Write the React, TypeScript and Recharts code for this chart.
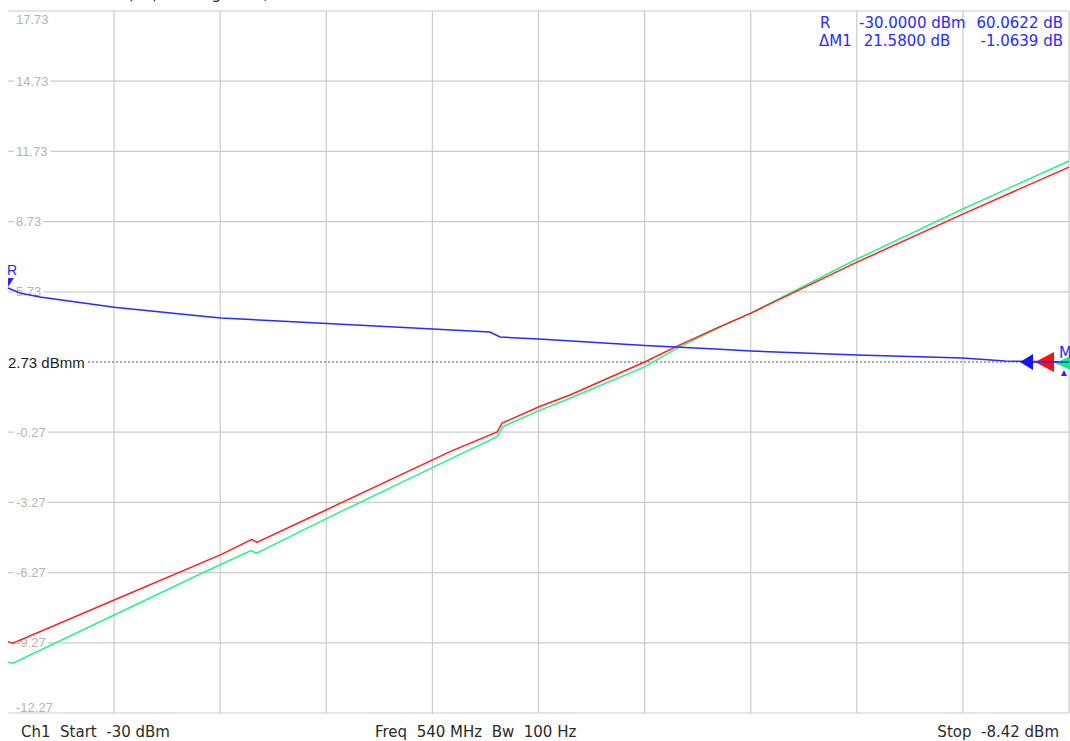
import React from "react";
import { LineChart, Line, XAxis, YAxis, CartesianGrid, ReferenceLine, ReferenceDot } from "recharts";

// Sweep: power (dBm) on x, trace values (dB) on y
const START_DBM = -30;
const STOP_DBM = -8.42;
const xGridValues = [-30, -27.842, -25.684, -23.526, -21.368, -19.21, -17.052, -14.894, -12.736, -10.578, -8.42];
const yTickValues = [-12.27, -9.27, -6.27, -3.27, -0.27, 2.73, 5.73, 8.73, 11.73, 14.73, 17.73];
const refLevel = 2.73;

const bluePower = [-30, -29.76, -29.35, -27.84, -26.09, -25.67, -23.51, -21.36, -20.2, -19.99, -19.2, -17.96, -17.04, -16.33, -15.52, -14.89, -12.73, -10.58, -9.72, -8.42];
const blueGain = [5.89, 5.68, 5.51, 5.07, 4.7, 4.61, 4.38, 4.14, 4.01, 3.8, 3.71, 3.55, 3.43, 3.36, 3.27, 3.2, 3.03, 2.9, 2.77, 2.73];

const redPower = [-30, -29.9, -27.84, -25.67, -25.04, -24.94, -23.65, -21.01, -20.05, -19.95, -19.2, -18.57, -17.04, -16.39, -15.52, -14.89, -12.73, -10.58, -8.42];
const redGain = [-9.22, -9.29, -7.44, -5.5, -4.85, -4.98, -3.71, -1.1, -0.26, 0.12, 0.82, 1.32, 2.74, 3.41, 4.24, 4.82, 7.0, 9.05, 11.06];

const greenPower = [-30, -29.9, -27.84, -26.09, -25.06, -24.94, -23.65, -21.01, -20.05, -19.93, -19.2, -18.57, -17.04, -16.39, -15.52, -14.89, -12.73, -10.58, -8.42];
const greenGain = [-10.1, -10.14, -8.08, -6.33, -5.33, -5.44, -4.09, -1.42, -0.46, -0.03, 0.65, 1.18, 2.53, 3.32, 4.21, 4.82, 7.13, 9.27, 11.32];

const infoRows = [
  ["R", "-30.0000 dBm", "60.0622 dB"],
  ["\u0394M1", " 21.5800 dB", "-1.0639 dB"],
];
const titleParts = ["Trc1 b2(P1)", "dB Mag", "1 dB,"];
const footerLeft = "Ch1  Start  -30 dBm";
const footerMid = "Freq  540 MHz  Bw  100 Hz";
const footerRight = "Stop  -8.42 dBm";

const blueData = bluePower.map((p, i) => ({ p, v: blueGain[i] }));
const redData = redPower.map((p, i) => ({ p, v: redGain[i] }));
const greenData = greenPower.map((p, i) => ({ p, v: greenGain[i] }));

const BLUE = "#2a2aff";
const RED = "#ff2020";
const GREEN = "#2cf08c";
const GRID = "#cbcbcb";
const ARIAL = "'Liberation Sans', Arial, sans-serif";
const VERDANA = "'DejaVu Sans', Verdana, sans-serif";
const PRE: React.CSSProperties = { whiteSpace: "pre" };

const charW = (s: string) => {
  let w = 0;
  for (const c of s) w += c === "." ? 3.6 : c === "-" ? 4.3 : 7.23;
  return w;
};

const makeTickLabel = (v: number) => (props: any) => {
  const { viewBox } = props;
  const x = viewBox.x;
  const y = viewBox.y;
  const label = v.toFixed(2);
  const isTop = v > 17;
  const isBottom = v < -12;
  const ty = isTop ? y + 13 : isBottom ? y - 1 : y + 4.5;
  const w = charW(label);
  return (
    <g>
      {!isTop && !isBottom && <rect x={x + 6} y={y - 6} width={w + 4} height={12} fill="#ffffff" />}
      <text x={x + 8} y={ty} fill="#b4b4b4" fontSize={13} fontFamily={ARIAL}>
        {label}
      </text>
    </g>
  );
};

const RefLabel = (props: any) => {
  const { viewBox } = props;
  const x = viewBox.x;
  const y = viewBox.y;
  return (
    <g>
      <rect x={x} y={y - 8} width={80} height={16} fill="#ffffff" />
      <text x={x} y={y + 5.5} fill="#1e1e1e" fontSize={15} fontFamily={ARIAL}>
        2.73 dBmm
      </text>
    </g>
  );
};

const StartMarker = (props: any) => {
  const { cx, cy } = props;
  return (
    <g>
      <polygon points={`${cx},${cy - 10} ${cx + 6},${cy - 10} ${cx},${cy - 1}`} fill={BLUE} />
      <text x={cx - 1} y={cy - 13} fill={BLUE} fontSize={14} fontFamily={ARIAL}>
        R
      </text>
    </g>
  );
};

const EndMarkers = (props: any) => {
  const { cx, cy } = props;
  return (
    <g>
      <polygon points={`${cx - 49},${cy} ${cx - 36},${cy - 8} ${cx - 36},${cy + 8}`} fill="#1414ee" />
      <polygon points={`${cx - 34},${cy} ${cx - 15},${cy - 10} ${cx - 15},${cy + 10}`} fill="#ff1010" />
      <polygon points={`${cx - 14},${cy + 1} ${cx + 6},${cy - 8} ${cx + 6},${cy + 10}`} fill="#10ee80" />
      <line x1={cx - 36} y1={cy} x2={cx} y2={cy} stroke={BLUE} strokeWidth={1.5} />
      <text x={cx - 10} y={cy - 4} fill={BLUE} fontSize={15} fontFamily={VERDANA}>
        M1
      </text>
      <polygon points={`${cx - 8},${cy + 14} ${cx - 5},${cy + 8} ${cx - 2},${cy + 14}`} fill={BLUE} />
    </g>
  );
};

export default function App() {
  return (
    <div style={{ position: "absolute", left: 0, top: 0, width: 1070, height: 741, overflow: "hidden", background: "#ffffff" }}>
      <LineChart width={1070} height={741} margin={{ top: 11, left: 8, right: 1, bottom: 28 }}>
        <CartesianGrid
          stroke={GRID}
          strokeWidth={1.2}
          verticalValues={xGridValues}
          horizontalValues={yTickValues.filter((v) => v !== refLevel)}
        />
        <XAxis type="number" dataKey="p" domain={[START_DBM, STOP_DBM]} ticks={xGridValues} hide allowDuplicatedCategory={false} />
        <YAxis type="number" domain={[-12.27, 17.73]} ticks={yTickValues} hide />
        {yTickValues
          .filter((v) => v !== refLevel)
          .map((v) => (
            <ReferenceLine key={v} y={v} stroke="none" strokeOpacity={0} label={makeTickLabel(v)} />
          ))}
        <ReferenceLine y={refLevel} stroke="#555555" strokeDasharray="2 2" strokeWidth={1} label={RefLabel} />
        <Line data={greenData} dataKey="v" type="linear" stroke={GREEN} strokeWidth={1.5} dot={false} isAnimationActive={false} />
        <Line data={redData} dataKey="v" type="linear" stroke={RED} strokeWidth={1.5} dot={false} isAnimationActive={false} />
        <Line data={blueData} dataKey="v" type="linear" stroke={BLUE} strokeWidth={1.5} dot={false} isAnimationActive={false} />
        <ReferenceDot x={START_DBM} y={blueGain[0]} r={0} shape={StartMarker} />
        <ReferenceDot x={STOP_DBM} y={refLevel} r={0} shape={EndMarkers} />
      </LineChart>
      <svg width={1070} height={741} style={{ position: "absolute", left: 0, top: 0, pointerEvents: "none" }}>
        <g fontFamily={VERDANA} fontSize={15} fill="#2a2a2a">
          <text x={158} y={-1} textAnchor="end" xmlSpace="preserve" style={PRE}>{titleParts[0]}</text>
          <text x={221} y={-1} textAnchor="end" xmlSpace="preserve" style={PRE}>{titleParts[1]}</text>
          <text x={268} y={-1} textAnchor="end" xmlSpace="preserve" style={PRE}>{titleParts[2]}</text>
        </g>
        <g fontFamily={VERDANA} fontSize={15} fill={BLUE}>
          {infoRows.map((row, i) => (
            <g key={i}>
              <text x={i === 0 ? 820 : 819} y={28 + i * 18} xmlSpace="preserve" style={PRE}>{row[0]}</text>
              <text x={859} y={28 + i * 18} xmlSpace="preserve" style={PRE}>{row[1]}</text>
              <text x={1063} y={28 + i * 18} textAnchor="end" xmlSpace="preserve" style={PRE}>{row[2]}</text>
            </g>
          ))}
        </g>
        <g fontFamily={VERDANA} fontSize={15} fill="#2a2a2a">
          <text x={21} y={737} xmlSpace="preserve" style={PRE}>{footerLeft}</text>
          <text x={375} y={737} xmlSpace="preserve" style={PRE}>{footerMid}</text>
          <text x={1059} y={737} textAnchor="end" xmlSpace="preserve" style={PRE}>{footerRight}</text>
        </g>
      </svg>
    </div>
  );
}
